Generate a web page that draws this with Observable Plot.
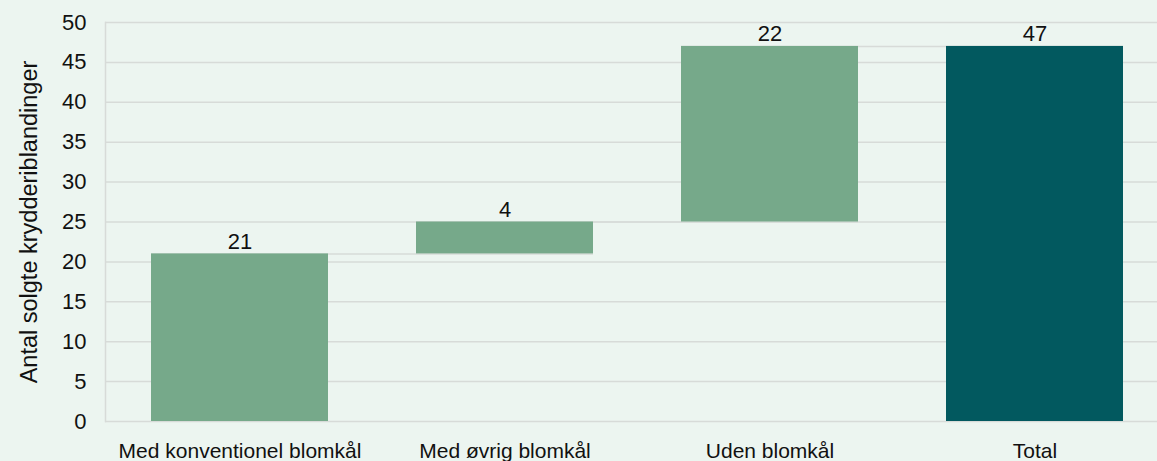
<!DOCTYPE html>
<html>
<head>
<meta charset="utf-8">
<script src="https://cdn.jsdelivr.net/npm/d3@7"></script>
<script src="https://cdn.jsdelivr.net/npm/@observablehq/plot@0.6"></script>
<style>
  html, body { margin: 0; padding: 0; background: #ecf5f0; overflow: hidden; }
  #chart svg { display: block; }
</style>
</head>
<body>
<div id="chart"></div>
<script>
// ---- Data ----
const categories = ["Med konventionel blomkål", "Med øvrig blomkål", "Uden blomkål", "Total"];
const values = [21, 4, 22, 47];
const kinds = ["delta", "delta", "delta", "total"];
const yTicks = [0, 5, 10, 15, 20, 25, 30, 35, 40, 45, 50];
const yLabel = "Antal solgte krydderiblandinger";

// ---- Build waterfall table ----
let run = 0;
const rows = categories.map((cat, i) => {
  let start, end;
  if (kinds[i] === "total") { start = 0; end = values[i]; }
  else { start = run; end = run + values[i]; run = end; }
  return {cat, value: values[i], start, end, kind: kinds[i], next: categories[i + 1]};
});
const connectors = rows.filter(d => d.next !== undefined);

const font = "'Liberation Sans', Arial, Helvetica, sans-serif";
const grid = "#d7dbd8";

const chart = Plot.plot({
  width: 1157,
  height: 461,
  marginTop: 22,
  marginBottom: 40,
  marginLeft: 105,
  marginRight: -12,
  style: {background: "#ecf5f0", fontFamily: font, color: "#111"},
  x: {domain: categories, paddingInner: 0.333, paddingOuter: 0.1667},
  y: {domain: [0, 50]},
  marks: [
    Plot.gridY(yTicks, {stroke: grid, strokeOpacity: 1, strokeWidth: 1.5}),
    Plot.frame({anchor: "left", stroke: grid, strokeWidth: 1.5}),
    Plot.ruleY(connectors, {y: "end", x1: "cat", x2: "next", stroke: grid, strokeWidth: 1.5}),
    Plot.barY(rows.filter(d => d.kind === "delta"), {x: "cat", y1: "start", y2: "end", fill: "#76a98a"}),
    Plot.barY(rows.filter(d => d.kind === "total"), {x: "cat", y1: "start", y2: "end", fill: "#02595f"}),
    Plot.text(rows, {x: "cat", y: "end", text: d => String(d.value), dy: -12, fontSize: 22, fill: "#111"}),
    Plot.axisY(yTicks, {tickSize: 0, tickPadding: 19, fontSize: 22, label: null}),
    Plot.text([yLabel], {frameAnchor: "left", textAnchor: "middle", rotate: -90, dx: -76, fontSize: 23.5, fill: "#111"}),
    Plot.axisX({tickSize: 0, tickPadding: 22, fontSize: 21, label: null})
  ]
});
document.getElementById("chart").appendChild(chart);
</script>
</body>
</html>
